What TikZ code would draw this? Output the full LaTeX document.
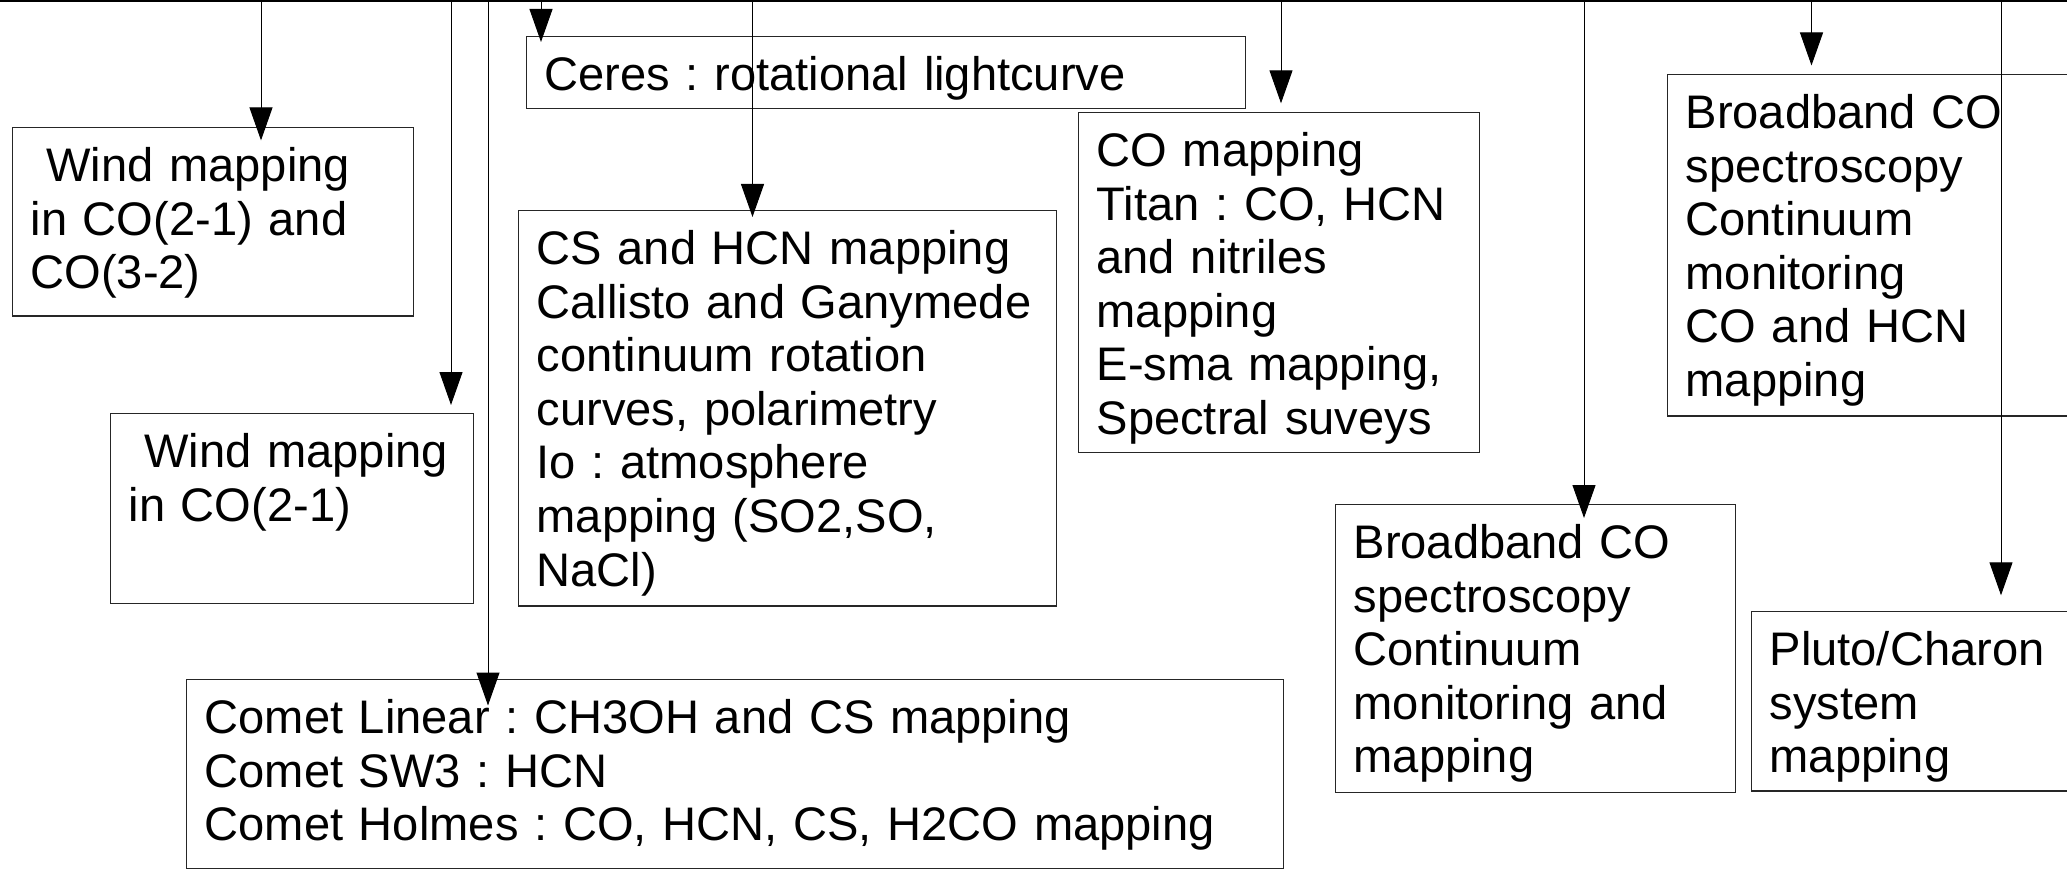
\documentclass[tikz,border=0pt]{standalone}
\usepackage{fontspec}
\setmainfont{Liberation Sans}
\frenchspacing
\usetikzlibrary{arrows.meta}

\begin{document}
\begin{tikzpicture}
  [ x=0.1mm, y=-0.1mm
  , font=\fontsize{13.4pt}{15.25pt}\selectfont
  , obs/.style={draw=black!85, line width=0.12mm, anchor=north west, align=left,
                inner xsep=1.8mm, inner ysep=1mm, text height=4.4mm}
  , feed/.style={draw=black, line width=0.1mm, -{Triangle[length=3.3mm,width=2.3mm]}}
  , rim/.style={draw=black, line width=0.3mm}
  ]
  \path[use as bounding box, clip] (0,0) rectangle (2067,874);

  \node[obs, text width=36.5mm,  text depth=12.45mm] (wboth) at (12,127)
    {\ Wind mapping\\in CO(2-1) and\\CO(3-2)};
  \node[obs, text width=32.7mm,  text depth=12.6mm]  (wone)  at (110,413)
    {\ Wind mapping\\in CO(2-1)};
  \node[obs, text width=68.25mm, text depth=0.8mm]   (ceres) at (526,36)
    {Ceres : rotational lightcurve};
  \node[obs, text width=50.15mm, text depth=33.14mm] (jovi)  at (518,210)
    {CS and HCN mapping\\\mbox{Callisto and Ganymede}\\continuum rotation\\curves, polarimetry\\Io : atmosphere\\mapping (SO2,SO,\\NaCl)};
  \node[obs, text width=106.1mm, text depth=12.45mm] (comet) at (186,679)
    {Comet Linear : CH3OH and CS mapping\\Comet SW3 : HCN\\Comet Holmes : CO, HCN, CS, H2CO mapping};
  \node[obs, text width=36.46mm, text depth=27.63mm] (titan) at (1078,112)
    {CO mapping\\Titan : CO, HCN\\and nitriles\\mapping\\E-sma mapping,\\Spectral suveys};
  \node[obs, text width=36.4mm,  text depth=22.37mm] (bbmon) at (1335,504)
    {Broadband CO\\spectroscopy\\Continuum\\monitoring and\\mapping};
  \node[obs, text width=38.4mm,  text depth=27.75mm] (bbmap) at (1667,74)
    {Broadband CO\\spectroscopy\\Continuum\\monitoring\\CO and HCN\\mapping};
  \node[obs, text width=30.4mm,  text depth=11.53mm] (pluto) at (1751,611)
    {Pluto/Charon\\system\\mapping};

  \coordinate (topw) at (0,1);
  \coordinate (tope) at (2067,1);
  \draw[rim] (topw) -- (tope);

  \coordinate (twboth) at (261,0);
  \coordinate (twone)  at (451,0);
  \coordinate (tcomet) at (488,0);
  \coordinate (tceres) at (541,0);
  \coordinate (tjovi)  at (752.5,0);
  \coordinate (ttitan) at (1281,0);
  \coordinate (tbbmon) at (1584,0);
  \coordinate (tbbmap) at (1811.5,0);
  \coordinate (tpluto) at (2001,0);

  \draw[feed, shorten >=-1.34mm] (twboth) -- (twboth |- wboth.north);
  \draw[feed, shorten >=0.8mm]   (twone)  -- (twone |- wone.north);
  \draw[feed, shorten >=-2.65mm] (tcomet) -- (tcomet |- comet.north);

  \draw[feed, shorten >=-0.6mm]  (tceres) -- (tceres |- ceres.north);
  \draw[feed, shorten >=-0.7mm]  (tjovi)  -- (tjovi |- jovi.north);
  \draw[feed, shorten >=0.87mm]  (ttitan) -- (ttitan |- titan.north);

  \draw[feed, shorten >=-1.4mm]  (tbbmon) -- (tbbmon |- bbmon.north);
  \draw[feed, shorten >=0.85mm]  (tbbmap) -- (tbbmap |- bbmap.north);
  \draw[feed, shorten >=1.57mm]  (tpluto) -- (tpluto |- pluto.north);

      %node {Wind 2-1 and 3-2}
      %node {Wind 2-1}
      %node {Comets}
\end{tikzpicture}
\end{document}
